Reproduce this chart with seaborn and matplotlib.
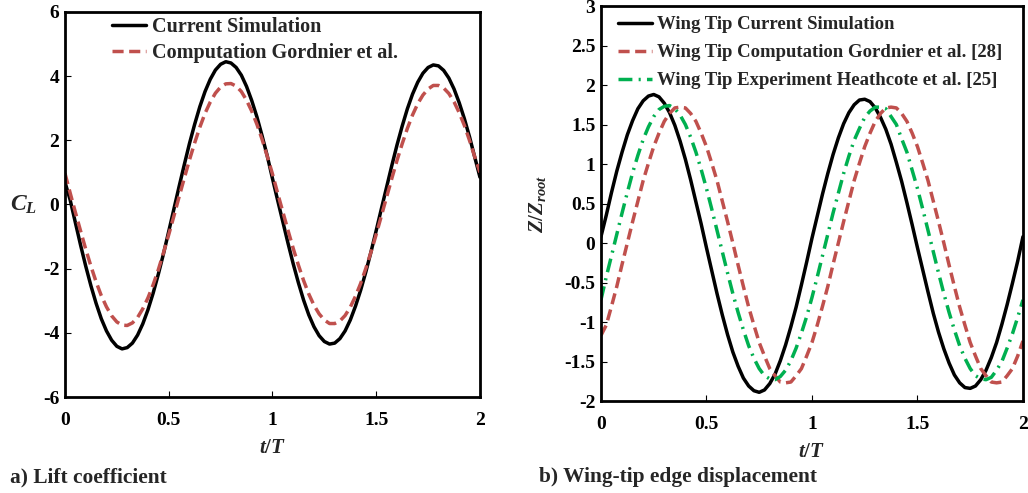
import matplotlib
matplotlib.use("Agg")
import matplotlib.pyplot as plt
import seaborn as sns
import pandas as pd

# ---------------- data ----------------
t = [0.000, 0.025, 0.050, 0.075, 0.100, 0.125, 0.150, 0.175, 0.200, 0.225,
     0.250, 0.275, 0.300, 0.325, 0.350, 0.375, 0.400, 0.425, 0.450, 0.475,
     0.500, 0.525, 0.550, 0.575, 0.600, 0.625, 0.650, 0.675, 0.700, 0.725,
     0.750, 0.775, 0.800, 0.825, 0.850, 0.875, 0.900, 0.925, 0.950, 0.975,
     1.000, 1.025, 1.050, 1.075, 1.100, 1.125, 1.150, 1.175, 1.200, 1.225,
     1.250, 1.275, 1.300, 1.325, 1.350, 1.375, 1.400, 1.425, 1.450, 1.475,
     1.500, 1.525, 1.550, 1.575, 1.600, 1.625, 1.650, 1.675, 1.700, 1.725,
     1.750, 1.775, 1.800, 1.825, 1.850, 1.875, 1.900, 1.925, 1.950, 1.975,
     2.000]

# (a) lift coefficient
cl_current = [0.70, 0.14, -0.56, -1.26, -1.92, -2.53, -3.08, -3.56, -3.94, -4.23,
              -4.42, -4.50, -4.46, -4.32, -4.07, -3.72, -3.28, -2.76, -2.17, -1.53,
              -0.84, -0.14, 0.56, 1.24, 1.90, 2.50, 3.05, 3.52, 3.90, 4.19,
              4.37, 4.45, 4.41, 4.27, 4.03, 3.68, 3.24, 2.73, 2.14, 1.51,
              0.81, 0.13, -0.54, -1.21, -1.85, -2.44, -2.98, -3.44, -3.81, -4.09,
              -4.27, -4.35, -4.32, -4.18, -3.94, -3.60, -3.17, -2.67, -2.10, -1.47,
              -0.81, -0.13, 0.54, 1.21, 1.85, 2.44, 2.98, 3.44, 3.81, 4.09,
              4.27, 4.35, 4.32, 4.18, 3.94, 3.60, 3.17, 2.67, 2.10, 1.47,
              0.85]
cl_gordnier = [0.97, 0.36, -0.24, -0.82, -1.39, -1.92, -2.41, -2.84, -3.19, -3.47,
               -3.66, -3.76, -3.77, -3.69, -3.52, -3.25, -2.91, -2.50, -2.03, -1.50,
               -0.94, -0.36, 0.24, 0.82, 1.39, 1.92, 2.41, 2.84, 3.19, 3.47,
               3.66, 3.76, 3.77, 3.69, 3.52, 3.25, 2.91, 2.50, 2.03, 1.50,
               0.95, 0.35, -0.23, -0.81, -1.37, -1.89, -2.37, -2.79, -3.14, -3.41,
               -3.60, -3.71, -3.71, -3.63, -3.46, -3.20, -2.86, -2.46, -1.99, -1.48,
               -0.93, -0.35, 0.23, 0.81, 1.37, 1.89, 2.37, 2.79, 3.14, 3.41,
               3.60, 3.71, 3.71, 3.63, 3.46, 3.20, 2.86, 2.46, 1.99, 1.48,
               1.00]

# (b) wing-tip edge displacement
z_current = [0.08, 0.35, 0.64, 0.91, 1.15, 1.37, 1.55, 1.70, 1.80, 1.86,
             1.88, 1.85, 1.77, 1.65, 1.49, 1.29, 1.06, 0.80, 0.52, 0.24,
             -0.06, -0.35, -0.64, -0.91, -1.16, -1.38, -1.56, -1.71, -1.81, -1.87,
             -1.89, -1.86, -1.78, -1.66, -1.49, -1.29, -1.06, -0.81, -0.53, -0.24,
             0.06, 0.34, 0.62, 0.88, 1.12, 1.33, 1.51, 1.65, 1.75, 1.81,
             1.82, 1.79, 1.71, 1.59, 1.44, 1.25, 1.02, 0.78, 0.51, 0.23,
             -0.06, -0.34, -0.62, -0.89, -1.13, -1.34, -1.52, -1.67, -1.77, -1.83,
             -1.84, -1.81, -1.73, -1.61, -1.45, -1.26, -1.03, -0.78, -0.51, -0.23,
             0.08]
z_gordnier = [-1.17, -1.04, -0.80, -0.55, -0.27, 0.00, 0.27, 0.53, 0.79, 1.01,
              1.22, 1.39, 1.54, 1.64, 1.71, 1.72, 1.71, 1.64, 1.54, 1.39,
              1.22, 1.01, 0.79, 0.53, 0.27, 0.00, -0.28, -0.55, -0.81, -1.04,
              -1.26, -1.43, -1.59, -1.68, -1.76, -1.77, -1.76, -1.68, -1.59, -1.43,
              -1.26, -1.04, -0.80, -0.55, -0.27, 0.00, 0.27, 0.53, 0.79, 1.01,
              1.22, 1.39, 1.54, 1.64, 1.71, 1.72, 1.71, 1.64, 1.54, 1.39,
              1.22, 1.01, 0.79, 0.53, 0.27, 0.00, -0.28, -0.55, -0.81, -1.04,
              -1.26, -1.43, -1.59, -1.68, -1.76, -1.77, -1.76, -1.68, -1.59, -1.43,
              -1.24]
z_heathcote = [-0.72, -0.43, -0.16, 0.11, 0.38, 0.64, 0.89, 1.11, 1.31, 1.47,
               1.60, 1.69, 1.73, 1.74, 1.70, 1.62, 1.50, 1.34, 1.15, 0.93,
               0.69, 0.43, 0.16, -0.11, -0.38, -0.64, -0.88, -1.10, -1.30, -1.46,
               -1.59, -1.68, -1.72, -1.73, -1.69, -1.61, -1.49, -1.33, -1.14, -0.93,
               -0.69, -0.43, -0.16, 0.11, 0.38, 0.63, 0.88, 1.10, 1.30, 1.45,
               1.59, 1.67, 1.72, 1.72, 1.70, 1.60, 1.50, 1.32, 1.15, 0.92,
               0.69, 0.43, 0.16, -0.11, -0.38, -0.64, -0.88, -1.10, -1.30, -1.46,
               -1.59, -1.68, -1.72, -1.73, -1.70, -1.61, -1.50, -1.33, -1.15, -0.94,
               -0.72]

x_ticks = [0, 0.5, 1, 1.5, 2]
x_tick_labels = ["0", "0.5", "1", "1.5", "2"]
cl_ticks = [-6, -4, -2, 0, 2, 4, 6]
cl_tick_labels = ["-6", "-4", "-2", "0", "2", "4", "6"]
z_ticks = [-2, -1.5, -1, -0.5, 0, 0.5, 1, 1.5, 2, 2.5, 3]
z_tick_labels = ["-2", "-1.5", "-1", "-0.5", "0", "0.5", "1", "1.5", "2", "2.5", "3"]

labels_a = ["Current Simulation", "Computation Gordnier et al."]
labels_b = ["Wing Tip Current Simulation",
            "Wing Tip Computation Gordnier et al. [28]",
            "Wing Tip Experiment Heathcote et al. [25]"]

# ---------------- style ----------------
sns.set_style("ticks")
plt.rcParams["font.family"] = ["Liberation Serif", "DejaVu Serif"]
plt.rcParams["font.weight"] = "bold"
plt.rcParams["mathtext.fontset"] = "custom"
plt.rcParams["mathtext.rm"] = "Liberation Serif:bold"
plt.rcParams["mathtext.it"] = "Liberation Serif:italic:bold"
plt.rcParams["mathtext.bf"] = "Liberation Serif:bold"

BLACK = "#000000"
RED = "#C0504D"
GREEN = "#00B050"
LW = 2.5

fig = plt.figure(figsize=(10.28, 4.93), dpi=100)
ax1 = fig.add_axes([0.0632, 0.1947, 0.4037, 0.7810])
ax2 = fig.add_axes([0.5846, 0.1866, 0.4105, 0.8012])

df_a = pd.DataFrame({"t": t, "cur": cl_current, "gor": cl_gordnier})
df_b = pd.DataFrame({"t": t, "cur": z_current, "gor": z_gordnier, "hea": z_heathcote})


def draw(ax, df, col, color, dashes=None):
    sns.lineplot(data=df, x="t", y=col, ax=ax, color=color, lw=LW,
                 sort=False, estimator=None, errorbar=None)
    line = ax.lines[-1]
    if dashes is not None:
        line.set_dashes(dashes)
    line.set_solid_capstyle("round")
    line.set_solid_joinstyle("round")
    return line


# panel a
la1 = draw(ax1, df_a, "cur", BLACK)
la2 = draw(ax1, df_a, "gor", RED, (3.2, 1.6))
# panel b
lb1 = draw(ax2, df_b, "cur", BLACK)
lb2 = draw(ax2, df_b, "gor", RED, (3.2, 1.6))
lb3 = draw(ax2, df_b, "hea", GREEN, (4.0, 1.8, 0.6, 1.8))

for ax in (ax1, ax2):
    ax.set_xlim(0, 2)
    ax.set_xticks(x_ticks)
    ax.set_xticklabels(x_tick_labels)
    for s in ax.spines.values():
        s.set_linewidth(2.0)
        s.set_color("black")
    ax.tick_params(direction="in", length=4, width=0.8, labelsize=14,
                   pad=4, colors="black")
    ax.tick_params(axis="x", pad=11)
    ax.set_xlabel(r"$t/T$", fontsize=15, labelpad=7)
    ax.set_facecolor("white")

ax1.set_ylim(-6, 6)
ax1.set_yticks(cl_ticks)
ax1.set_yticklabels(cl_tick_labels)
ax1.set_ylabel(r"$C_L$", fontsize=17, rotation=0, labelpad=14, va="center")

ax2.set_ylim(-2, 3)
ax2.set_yticks(z_ticks)
ax2.set_yticklabels(z_tick_labels)
ax2.set_ylabel(r"$Z/Z_{root}$", fontsize=15, labelpad=4)
ax2.yaxis.set_label_coords(-0.125, 0.5)

for lab in ax1.get_yticklabels() + ax2.get_yticklabels() + ax1.get_xticklabels() + ax2.get_xticklabels():
    lab.set_fontweight("bold")

leg1 = ax1.legend([la1, la2], labels_a, loc="upper left", frameon=False,
                  bbox_to_anchor=(0.07, 1.033), handlelength=1.7, handletextpad=0.3,
                  labelspacing=0.3, prop={"family": "Liberation Serif", "weight": "bold", "size": 14.5})
leg2 = ax2.legend([lb1, lb2, lb3], labels_b, loc="upper left", frameon=False,
                  bbox_to_anchor=(0.0, 1.017), handlelength=1.8, handletextpad=0.3,
                  labelspacing=0.58, prop={"family": "Liberation Serif", "weight": "bold", "size": 13.5})

fig.text(10 / 1028, 1 - 477 / 493, "a) Lift coefficient", fontsize=15.4,
         fontweight="bold", va="center", ha="left")
fig.text(539 / 1028, 1 - 477 / 493, "b) Wing-tip edge displacement", fontsize=15.4,
         fontweight="bold", va="center", ha="left")

fig.savefig("out.png", dpi=100, facecolor="white")
